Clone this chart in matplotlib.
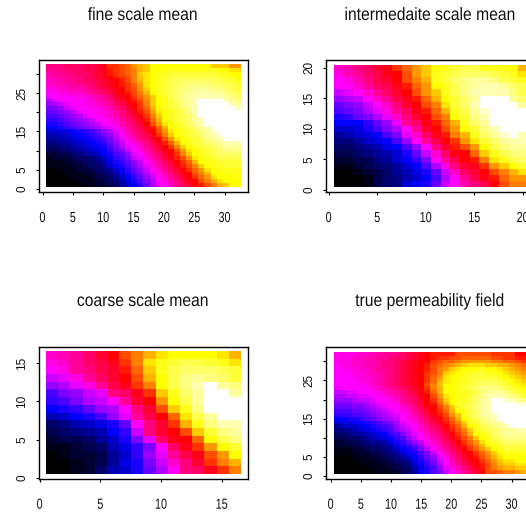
import matplotlib
matplotlib.use("Agg")
import matplotlib.pyplot as plt
import numpy as np
from matplotlib.colors import LinearSegmentedColormap
from matplotlib.patheffects import AbstractPathEffect
from matplotlib.transforms import Affine2D

titles = ["fine scale mean", "intermedaite scale mean", "coarse scale mean", "true permeability field"]

fine = [
[25,25,25,26,26,26,27,27,28,29,32,32,33,34,36,37,38,40,40,40,40,40,40,40,40,40,40,38,38,38,36,36],
[24,24,25,25,26,26,27,27,28,29,31,32,33,34,35,37,38,40,40,41,41,41,41,41,41,41,41,41,40,40,39,39],
[23,24,24,25,25,26,26,27,28,29,31,32,33,34,35,38,39,40,41,41,42,42,42,42,42,42,42,42,41,41,40,40],
[23,23,24,24,25,25,26,27,28,29,30,31,32,33,35,38,39,40,41,42,42,43,43,43,43,43,43,43,42,42,41,40],
[22,23,23,24,24,25,26,26,27,28,29,30,31,33,35,37,39,40,41,42,43,43,44,44,44,44,44,43,43,42,42,41],
[22,22,23,23,24,24,25,26,27,28,29,30,31,32,34,36,39,40,41,42,43,44,44,45,45,45,45,44,44,43,43,42],
[21,21,22,22,23,23,24,25,26,27,28,29,30,32,33,36,38,40,41,42,43,44,45,45,46,46,46,45,45,44,43,42],
[20,20,21,21,22,22,23,24,25,26,27,29,30,31,33,35,37,40,41,42,43,44,45,46,46,47,47,46,46,45,44,43],
[19,20,20,20,20,21,21,22,23,24,26,28,29,30,32,34,36,38,40,41,43,44,45,46,47,47,47,47,47,46,45,44],
[17,19,20,20,20,20,21,22,23,24,25,27,28,30,31,33,35,38,40,41,42,44,45,46,47,50,50,50,50,47,46,45],
[16,17,18,19,20,20,21,21,22,23,24,26,27,29,30,32,35,38,40,41,42,43,45,46,47,50,50,50,50,50,47,46],
[15,15,16,18,19,20,20,21,21,22,23,25,26,28,30,32,34,37,40,41,42,43,44,45,47,50,50,50,50,50,50,47],
[14,14,15,16,17,19,20,20,21,21,22,24,25,27,29,31,33,36,39,40,41,42,43,45,47,50,50,50,50,50,50,50],
[13,13,14,15,16,17,19,20,20,21,22,23,25,26,28,30,32,35,38,40,41,42,43,44,46,50,50,50,50,50,50,50],
[12,12,13,14,15,16,17,18,20,20,21,22,24,25,27,29,31,34,37,40,41,42,43,44,46,47,50,50,50,50,50,50],
[11,11,12,13,14,15,16,17,18,20,20,21,23,25,26,28,30,33,36,39,40,41,42,44,45,47,50,50,50,50,50,50],
[10,10,11,12,13,14,15,16,17,18,19,20,22,24,26,27,29,31,34,37,40,41,42,43,44,46,47,50,50,50,50,50],
[8,8,9,9,10,11,12,13,14,16,17,19,21,23,25,26,28,30,33,36,39,40,41,42,43,45,46,48,50,50,50,50],
[7,7,8,8,9,10,11,12,13,15,16,18,20,22,24,26,27,29,32,35,38,40,41,42,43,44,46,47,49,50,50,50],
[6,6,7,7,8,9,10,11,12,13,15,17,19,21,23,25,26,28,30,33,36,39,40,41,42,43,45,46,47,50,50,50],
[5,5,6,6,7,8,9,10,11,12,14,16,18,20,21,23,25,27,29,31,34,37,40,41,42,43,44,45,46,47,47,47],
[4,4,5,5,6,7,8,9,10,11,13,15,17,19,20,22,24,26,28,30,32,35,38,40,41,42,43,44,45,46,46,46],
[3,3,4,4,5,6,7,8,9,10,12,14,15,18,20,21,23,25,27,29,30,33,36,39,40,41,42,43,44,45,45,45],
[2,2,3,3,4,5,6,7,8,10,11,13,14,16,19,20,22,24,26,28,30,32,35,38,40,41,42,43,44,44,44,44],
[1,2,2,2,3,4,4,5,6,8,10,12,13,15,18,19,21,23,25,27,29,31,33,36,39,40,41,42,43,43,43,43],
[1,1,1,2,2,3,4,4,5,7,9,11,12,14,16,18,20,22,24,26,28,30,32,34,37,40,41,41,42,42,42,42],
[1,1,1,1,2,2,3,4,4,6,8,10,11,13,15,17,19,21,23,25,27,29,31,33,35,38,40,41,41,42,42,42],
[0,0,1,1,1,2,2,3,4,5,6,8,10,12,14,16,18,20,22,24,26,28,30,32,34,36,39,40,41,41,41,41],
[0,0,0,1,1,1,2,2,3,4,5,7,9,11,13,15,17,19,21,23,25,27,29,30,33,35,37,40,40,41,41,41],
[0,0,0,0,1,1,1,2,3,3,4,6,8,10,12,14,16,18,20,22,24,26,28,30,32,34,36,39,40,40,40,41],
[0,0,0,0,0,1,1,1,2,3,4,5,7,9,11,13,15,17,20,21,23,25,27,29,30,33,35,37,39,40,40,40],
[0,0,0,0,0,0,1,1,2,2,3,4,6,8,10,12,14,17,19,20,22,24,26,28,30,31,33,35,37,38,40,40],
]

intermediate = [
[22,23,25,26,28,29,32,34,36,38,40,41,42,43,43,41,41,41,40,37],
[21,23,24,26,27,29,30,33,36,38,41,42,43,44,44,44,43,42,41,39],
[20,21,23,25,27,28,30,33,35,37,41,42,44,45,46,46,45,43,42,41],
[20,20,22,24,26,27,29,31,34,36,40,41,43,45,46,47,47,46,44,43],
[18,19,20,22,24,26,28,30,33,36,38,41,43,45,47,47,47,47,45,43],
[16,17,18,20,22,24,27,29,31,34,37,40,42,44,46,50,50,50,46,44],
[14,15,16,18,20,22,25,28,30,33,35,39,42,44,47,50,50,50,50,46],
[13,14,15,17,19,21,24,26,29,31,34,37,41,43,46,48,50,50,50,50],
[11,12,14,15,17,19,22,25,28,30,33,35,40,42,45,47,50,50,50,50],
[10,10,10,12,14,16,19,24,26,29,31,34,37,41,44,46,50,50,50,50],
[8,8,9,11,13,15,17,20,24,28,30,33,36,40,42,45,47,50,50,50],
[6,7,8,9,10,13,15,19,22,26,29,31,35,37,41,44,46,48,50,47],
[5,5,6,8,9,10,13,16,20,24,27,30,32,36,39,42,44,46,47,47],
[4,4,5,6,7,9,10,13,16,20,25,28,31,33,36,40,43,45,46,46],
[3,3,4,5,6,7,8,11,14,18,22,26,29,30,34,38,41,43,45,45],
[2,2,3,3,5,6,8,10,12,15,20,24,27,30,31,35,39,41,43,44],
[1,1,2,3,4,5,6,8,10,13,17,21,25,28,29,32,36,38,40,42],
[0,0,1,2,3,4,6,7,9,11,14,18,22,26,28,30,33,35,37,39],
[0,0,0,1,3,4,5,7,8,10,13,17,20,24,27,29,31,34,36,36],
[0,0,0,1,3,4,5,8,10,11,14,18,20,23,25,27,30,33,35,35],
]

coarse = [
[22,23,24,26,28,30,33,35,37,39,40,40,40,40,39,37],
[21,22,24,26,27,29,32,35,39,41,42,43,43,42,41,39],
[20,21,24,25,27,28,31,34,38,41,43,44,44,44,43,42],
[18,19,21,24,26,28,30,33,37,40,43,45,46,45,44,42],
[16,17,19,21,24,27,29,32,35,40,43,45,47,50,46,45],
[13,15,16,18,19,25,26,29,32,38,41,44,46,50,50,46],
[12,13,15,17,18,20,24,28,30,36,40,43,46,50,50,50],
[10,11,12,14,16,17,20,25,28,33,38,41,45,50,50,50],
[7,8,10,11,13,16,19,24,27,30,34,39,43,46,50,50],
[4,5,7,8,9,11,14,20,25,28,32,37,41,45,47,47],
[3,4,5,6,7,10,12,18,25,28,30,33,38,42,45,46],
[2,3,3,4,6,8,11,15,19,26,29,30,34,40,43,45],
[1,1,2,3,4,7,9,12,15,20,26,29,32,36,40,42],
[0,1,2,2,3,6,8,12,16,19,24,27,29,33,36,40],
[0,0,1,2,3,6,9,11,15,18,22,25,28,32,35,37],
[0,0,1,2,4,7,8,11,14,17,20,25,26,29,32,35],
]

true_field = [
[21,21,21,21,22,22,23,23,24,24,25,26,27,28,29,30,31,31,31,31,33,33,33,33,33,33,32,32,32,32,30,30],
[21,21,21,22,22,23,23,24,24,25,26,26,27,28,29,30,31,32,32,33,33,34,34,34,34,34,33,33,32,32,31,31],
[21,21,21,22,22,23,23,24,25,25,26,27,28,29,30,30,32,33,34,34,35,36,36,36,36,36,35,35,34,34,33,32],
[20,21,21,22,22,23,23,24,25,25,26,27,28,29,30,31,33,34,35,36,37,38,39,39,39,38,38,37,37,36,35,34],
[20,20,21,21,22,22,23,24,24,25,26,27,28,29,30,31,33,35,36,38,39,40,40,40,41,40,40,39,38,37,36,35],
[20,20,20,21,21,22,23,23,24,25,26,27,28,29,30,32,33,35,38,39,40,41,41,42,42,41,41,40,39,38,37,36],
[20,20,20,21,21,22,22,23,24,25,26,27,28,29,30,32,34,36,39,40,40,41,42,42,42,42,42,41,40,39,38,37],
[20,20,20,20,21,21,22,23,24,25,26,27,28,29,30,32,34,37,39,40,41,41,42,43,43,43,43,42,41,40,39,38],
[20,20,20,20,20,21,22,23,24,25,26,27,28,29,30,33,35,38,40,40,41,42,42,43,44,44,44,43,42,41,40,39],
[19,20,20,20,20,20,21,22,23,24,25,26,27,28,30,32,35,37,40,40,41,42,43,44,45,45,45,44,43,42,41,40],
[18,18,19,19,20,20,20,21,22,23,24,25,26,28,29,31,34,37,40,40,41,41,42,43,45,46,46,46,45,43,42,41],
[17,17,18,18,19,19,20,20,21,22,23,24,26,27,29,30,33,36,39,40,41,41,42,44,45,47,47,47,46,45,44,42],
[16,16,16,17,18,18,19,20,20,21,22,24,25,26,28,30,32,35,38,40,41,41,43,44,46,47,50,50,48,47,46,45],
[15,15,15,16,16,17,18,19,20,20,21,23,24,26,28,30,31,34,37,40,41,42,43,44,46,47,50,50,50,50,48,48],
[14,14,14,15,15,16,17,18,19,20,20,22,23,25,27,29,30,33,35,38,41,42,43,45,46,47,50,50,50,50,50,50],
[13,13,13,14,14,15,16,17,18,19,20,21,22,24,26,28,30,32,34,37,40,41,43,44,46,47,50,50,50,50,50,50],
[12,12,12,13,13,14,15,16,17,18,19,20,21,23,25,27,29,31,33,36,38,41,43,44,46,47,48,50,50,50,50,50],
[10,10,11,11,12,13,14,15,16,17,18,20,21,22,24,26,28,30,32,34,37,40,42,43,45,46,47,50,50,50,50,50],
[8,9,9,10,10,11,12,13,14,15,17,19,20,21,23,25,27,29,31,33,35,38,41,42,44,45,46,47,50,50,50,50],
[6,7,8,8,9,10,11,12,13,14,16,18,19,20,22,24,26,28,30,32,34,37,40,41,43,44,45,46,47,50,50,50],
[5,5,6,7,8,9,10,11,12,13,15,17,18,20,21,23,25,27,29,31,33,35,38,41,42,43,44,45,46,46,47,47],
[4,4,5,6,6,7,8,9,10,12,13,15,17,19,20,22,24,26,28,30,32,34,37,40,41,42,44,45,46,46,46,46],
[3,3,4,4,5,6,7,8,9,10,12,13,16,18,20,21,23,25,27,29,31,33,35,38,40,41,43,44,45,45,45,45],
[2,2,3,3,4,5,6,6,7,9,11,12,14,16,18,20,22,24,26,28,30,32,34,36,39,41,42,43,44,44,44,44],
[2,2,2,3,3,4,4,5,6,7,9,11,12,14,16,19,21,23,25,27,29,31,33,35,37,40,41,42,43,43,43,43],
[1,1,1,2,2,3,4,4,5,6,8,10,11,12,15,17,20,22,24,26,28,30,32,34,36,38,40,41,42,42,42,42],
[1,1,1,1,2,2,3,3,4,5,6,8,10,11,13,15,18,20,23,25,27,29,30,32,34,36,38,40,41,41,41,41],
[0,0,0,1,1,1,2,2,3,4,5,6,8,10,12,14,16,19,21,24,26,28,30,31,33,35,37,39,40,40,40,40],
[0,0,0,0,1,1,1,2,2,3,4,5,6,9,11,13,15,18,20,23,25,27,29,30,32,34,36,38,39,39,40,40],
[0,0,0,0,0,1,1,1,2,2,3,4,5,8,10,12,14,17,20,22,24,26,28,30,31,33,35,37,38,38,39,39],
[0,0,0,0,0,0,1,1,1,2,3,3,4,7,9,11,13,16,19,21,23,25,27,29,31,33,35,36,37,37,38,38],
[0,0,0,0,0,0,0,1,1,1,2,3,4,6,10,11,13,15,18,20,22,24,26,28,30,33,33,34,35,35,36,37],
]

x_ticks = [[0,5,10,15,20,25,30],[0,5,10,15,20],[0,5,10,15],[0,5,10,15,20,25,30]]
y_ticks = [[0,5,10,15,20,25,30],[0,5,10,15,20],[0,5,10,15],[0,5,10,15,20,25,30]]
y_labels = [["0","5","","15","","25",""],["0","5","10","15","20"],["0","5","10","15"],["0","5","","15","","25",""]]

class SqueezeX(AbstractPathEffect):
    """Draw the text narrower about its own centre, as in the reference."""
    def __init__(self, factor):
        super().__init__()
        self.factor = factor
    def draw_path(self, renderer, gc, tpath, affine, rgbFace=None):
        box = tpath.get_extents(affine)
        cx = (box.x0 + box.x1) / 2
        squeezed = affine + Affine2D().translate(-cx, 0).scale(self.factor, 1).translate(cx, 0)
        renderer.draw_path(gc, tpath, squeezed, rgbFace)

cmap = LinearSegmentedColormap.from_list("bmryw", ["#000000","#0000ff","#ff00ff","#ff0000","#ffff00","#ffffff"], N=51)
W, H = 526, 514
FONT = "Liberation Sans"

fig = plt.figure(figsize=(W/100, H/100), dpi=100, facecolor="white")

#          box left,right,top,bottom ; x0 px, x scale ; y0 px, y scale
layout = [
 (38.7,247.5,60.0,192.0, 42.5,6.07,188.7,3.816),
 (325.7,534.5,60.0,192.0, 328.7,9.7,189.7,6.1),
 (38.7,247.5,346.7,478.7, 39.7,12.13,478.0,7.67),
 (325.7,534.5,346.7,478.7, 330.7,6.03,475.7,3.81),
]
grids = [fine, intermediate, coarse, true_field]

for i, g in enumerate(grids):
    l, r, t, b, x0, sx, y0, sy = layout[i]
    ax = fig.add_axes([l/W, 1-b/H, (r-l)/W, (b-t)/H])
    a = np.array(g)[::-1]
    ny, nx = a.shape
    ax.imshow(a, origin="lower", extent=(0.5, nx+0.5, 0.5, ny+0.5), aspect="auto",
              cmap=cmap, vmin=0, vmax=50, interpolation="nearest")
    ax.set_xlim((l-x0)/sx, (r-x0)/sx)
    ax.set_ylim((y0-b)/sy, (y0-t)/sy)
    ax.set_xticks(x_ticks[i])
    labs = ax.set_xticklabels([str(v) for v in x_ticks[i]], family=FONT, fontsize=10.5, color="#111111")
    for lab in labs:
        lab.set_path_effects([SqueezeX(0.74)])
    ax.set_yticks(y_ticks[i])
    ax.set_yticklabels(y_labels[i], rotation=90, va="center", family=FONT, fontsize=8.5, color="#111111")
    ax.tick_params(axis="x", length=2.2, width=0.8, pad=11.5)
    ax.tick_params(axis="y", length=2.2, width=0.8, pad=5.5)
    for s in ax.spines.values():
        s.set_linewidth(1.0)
    tx = (l + r) / 2 - 0.5
    ty = 15.5 if i < 2 else 301.5
    tt = fig.text(tx/W, 1-ty/H, titles[i], ha="center", va="center", family=FONT, fontsize=12.8, color="#111111")
    tt.set_path_effects([SqueezeX(0.882)])

fig.savefig("out.png", dpi=100)
